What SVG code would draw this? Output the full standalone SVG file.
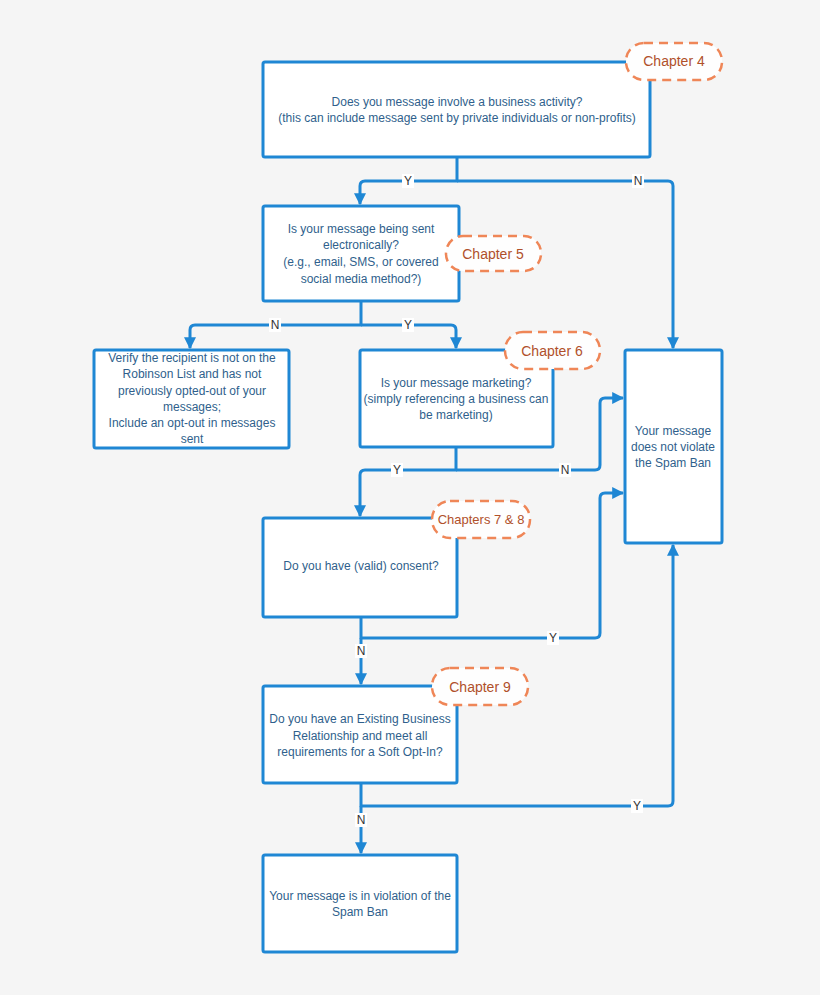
<svg xmlns="http://www.w3.org/2000/svg" width="820" height="995" viewBox="0 0 820 995">
<style>
.box{fill:#ffffff;stroke:#1f87d4;stroke-width:3;}
.t{font-family:"Liberation Sans",Arial,sans-serif;font-size:12px;fill:#2f5f8c;text-anchor:middle;}
.ch{fill:#fefefe;stroke:#ef8657;stroke-width:2.5;stroke-dasharray:9 6;}
.cht{font-family:"Liberation Sans",Arial,sans-serif;font-size:14px;fill:#b0502a;text-anchor:middle;}
.c{fill:none;stroke:#1f87d4;stroke-width:3;stroke-linejoin:round;}
.lb{fill:#ffffff;}
.lt{font-family:"Liberation Sans",Arial,sans-serif;font-size:12px;fill:#333333;text-anchor:middle;}
</style>
<defs>
<marker id="ah" viewBox="0 0 10 10" refX="9" refY="5" markerWidth="4" markerHeight="4" orient="auto" markerUnits="strokeWidth">
<path d="M0,0 L10,5 L0,10 z" fill="#1f87d4"/>
</marker>
</defs>
<rect x="0" y="0" width="820" height="995" fill="#f5f5f5"/>

<g id="connectors">
<path class="c" d="M457,157 V181 H365 Q360,181 360,186 V204" marker-end="url(#ah)"/>
<path class="c" d="M457,181 H668 Q673,181 673,186 V348" marker-end="url(#ah)"/>
<path class="c" d="M361,301 V325 H195 Q190,325 190,330 V348" marker-end="url(#ah)"/>
<path class="c" d="M361,325 H451 Q456,325 456,330 V348" marker-end="url(#ah)"/>
<path class="c" d="M456,447 V470 H365 Q360,470 360,475 V516" marker-end="url(#ah)"/>
<path class="c" d="M456,470 H595 Q600,470 600,465 V403 Q600,398 605,398 H623" marker-end="url(#ah)"/>
<path class="c" d="M361,617 V638 H595 Q600,638 600,633 V498 Q600,493 605,493 H623" marker-end="url(#ah)"/>
<path class="c" d="M361,638 V684" marker-end="url(#ah)"/>
<path class="c" d="M361,783 V806 H668 Q673,806 673,801 V545" marker-end="url(#ah)"/>
<path class="c" d="M361,806 V853" marker-end="url(#ah)"/>
<rect class="lb" x="402" y="174" width="12" height="14"/><text class="lt" x="408" y="185">Y</text>
<rect class="lb" x="632" y="174" width="12" height="14"/><text class="lt" x="638" y="185">N</text>
<rect class="lb" x="269" y="318" width="12" height="14"/><text class="lt" x="275" y="329">N</text>
<rect class="lb" x="402" y="318" width="12" height="14"/><text class="lt" x="408" y="329">Y</text>
<rect class="lb" x="391" y="463" width="12" height="14"/><text class="lt" x="397" y="474">Y</text>
<rect class="lb" x="559" y="463" width="12" height="14"/><text class="lt" x="565" y="474">N</text>
<rect class="lb" x="547" y="631" width="12" height="14"/><text class="lt" x="553" y="642">Y</text>
<rect class="lb" x="355" y="644" width="12" height="14"/><text class="lt" x="361" y="655">N</text>
<rect class="lb" x="631" y="799" width="12" height="14"/><text class="lt" x="637" y="810">Y</text>
<rect class="lb" x="355" y="813" width="12" height="14"/><text class="lt" x="361" y="824">N</text>
</g>

<g id="q1">
<rect class="box" x="263" y="62" width="387" height="95" rx="2"/>
<text class="t" x="457" y="106">Does you message involve a business activity?</text>
<text class="t" x="457" y="122">(this can include message sent by private individuals or non-profits)</text>
</g>
<g id="ch4">
<rect class="ch" x="626" y="43" width="96" height="37" rx="18"/>
<text class="cht" x="674" y="66">Chapter 4</text>
</g>

<g id="q2">
<rect class="box" x="263" y="206" width="196" height="95" rx="2"/>
<text class="t" x="361" y="233">Is your message being sent</text>
<text class="t" x="361" y="249">electronically?</text>
<text class="t" x="361" y="266">(e.g., email, SMS, or covered</text>
<text class="t" x="361" y="283">social media method?)</text>
</g>
<g id="ch5">
<rect class="ch" x="446" y="236" width="95" height="35" rx="17"/>
<text class="cht" x="493" y="259">Chapter 5</text>
</g>

<g id="verify">
<rect class="box" x="94" y="350" width="195" height="98" rx="2"/>
<text class="t" x="192" y="362">Verify the recipient is not on the</text>
<text class="t" x="192" y="378">Robinson List and has not</text>
<text class="t" x="192" y="395">previously opted-out of your</text>
<text class="t" x="192" y="411">messages;</text>
<text class="t" x="192" y="427">Include an opt-out in messages</text>
<text class="t" x="192" y="443">sent</text>
</g>

<g id="q3">
<rect class="box" x="360" y="350" width="193" height="97" rx="2"/>
<text class="t" x="456" y="387">Is your message marketing?</text>
<text class="t" x="456" y="403">(simply referencing a business can</text>
<text class="t" x="456" y="419">be marketing)</text>
</g>
<g id="ch6">
<rect class="ch" x="505" y="332" width="95" height="37" rx="18"/>
<text class="cht" x="552" y="356">Chapter 6</text>
</g>

<g id="ok">
<rect class="box" x="625" y="350" width="97" height="193" rx="2"/>
<text class="t" x="673" y="435">Your message</text>
<text class="t" x="673" y="451">does not violate</text>
<text class="t" x="673" y="467">the Spam Ban</text>
</g>

<g id="q4">
<rect class="box" x="263" y="518" width="194" height="99" rx="2"/>
<text class="t" x="361" y="570">Do you have (valid) consent?</text>
</g>
<g id="ch78">
<rect class="ch" x="432" y="501" width="98" height="37" rx="18"/>
<text class="cht" x="481" y="524" style="font-size:13px">Chapters 7 &amp; 8</text>
</g>

<g id="q5">
<rect class="box" x="263" y="686" width="194" height="97" rx="2"/>
<text class="t" x="360" y="723">Do you have an Existing Business</text>
<text class="t" x="360" y="740">Relationship and meet all</text>
<text class="t" x="360" y="756">requirements for a Soft Opt-In?</text>
</g>
<g id="ch9">
<rect class="ch" x="432" y="668" width="96" height="37" rx="18"/>
<text class="cht" x="480" y="692">Chapter 9</text>
</g>

<g id="violation">
<rect class="box" x="263" y="855" width="194" height="97" rx="2"/>
<text class="t" x="360" y="900">Your message is in violation of the</text>
<text class="t" x="360" y="916">Spam Ban</text>
</g>
</svg>
